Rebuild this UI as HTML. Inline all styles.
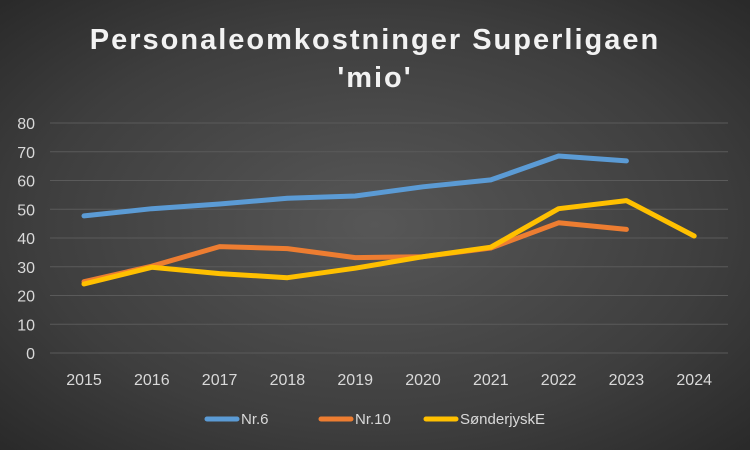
<!DOCTYPE html>
<html><head><style>
html,body{margin:0;padding:0}
body{width:750px;height:450px;overflow:hidden;background:radial-gradient(ellipse 75% 75% at 50% 50%,#575757 0%,#3e3e3e 60%,#262626 100%);font-family:"Liberation Sans",sans-serif}
</style></head><body>
<svg width="750" height="450" xmlns="http://www.w3.org/2000/svg" style="position:absolute;left:0;top:0">
<g font-family="Liberation Sans, sans-serif" fill="#f2f2f2" font-weight="bold" font-size="29" text-anchor="middle" letter-spacing="2">
<text x="375" y="49">Personaleomkostninger Superligaen</text>
<text x="375" y="87">'mio'</text>
</g>
<g stroke="#5a5a5a" stroke-width="1">
<line x1="50" x2="728" y1="123" y2="123"/><line x1="50" x2="728" y1="151.75" y2="151.75"/>
<line x1="50" x2="728" y1="180.5" y2="180.5"/><line x1="50" x2="728" y1="209.25" y2="209.25"/>
<line x1="50" x2="728" y1="238" y2="238"/><line x1="50" x2="728" y1="266.75" y2="266.75"/>
<line x1="50" x2="728" y1="295.5" y2="295.5"/><line x1="50" x2="728" y1="324.25" y2="324.25"/>
<line x1="50" x2="728" y1="353" y2="353"/>
</g>
<g fill="#d9d9d9" font-size="16" text-anchor="end">
<text x="35" y="129">80</text><text x="35" y="157.75">70</text><text x="35" y="186.5">60</text>
<text x="35" y="215.25">50</text><text x="35" y="244">40</text><text x="35" y="272.75">30</text>
<text x="35" y="301.5">20</text><text x="35" y="330.25">10</text><text x="35" y="359">0</text>
</g>
<g fill="#d9d9d9" font-size="16" text-anchor="middle">
<text x="84" y="385">2015</text><text x="151.8" y="385">2016</text><text x="219.6" y="385">2017</text>
<text x="287.4" y="385">2018</text><text x="355.2" y="385">2019</text><text x="423" y="385">2020</text>
<text x="490.8" y="385">2021</text><text x="558.6" y="385">2022</text><text x="626.4" y="385">2023</text>
<text x="694.2" y="385">2024</text>
</g>
<g fill="none" stroke-width="5" stroke-linecap="round" stroke-linejoin="round">
<polyline stroke="#5b9bd5" points="84,215.9 151.8,208.7 219.6,204 287.4,198.3 355.2,196 423,186.8 490.8,179.9 558.6,156 626.4,160.9"/>
<polyline stroke="#ed7d31" points="84,281.7 151.8,266.2 219.6,246.6 287.4,248.6 355.2,257.6 423,256.7 490.8,248 558.6,222.8 626.4,229.4"/>
<polyline stroke="#ffc000" points="84,284 151.8,267.3 219.6,273.6 287.4,277.7 355.2,268.2 423,256.7 490.8,247.2 558.6,208.7 626.4,200.6 694.2,236"/>
</g>
<g font-size="15" fill="#d9d9d9">
<line x1="207" x2="237" y1="419" y2="419" stroke="#5b9bd5" stroke-width="5" stroke-linecap="round"/>
<text x="241" y="424">Nr.6</text>
<line x1="321" x2="351" y1="419" y2="419" stroke="#ed7d31" stroke-width="5" stroke-linecap="round"/>
<text x="355" y="424">Nr.10</text>
<line x1="426" x2="456" y1="419" y2="419" stroke="#ffc000" stroke-width="5" stroke-linecap="round"/>
<text x="460" y="424">SønderjyskE</text>
</g>
</svg>
</body></html>
